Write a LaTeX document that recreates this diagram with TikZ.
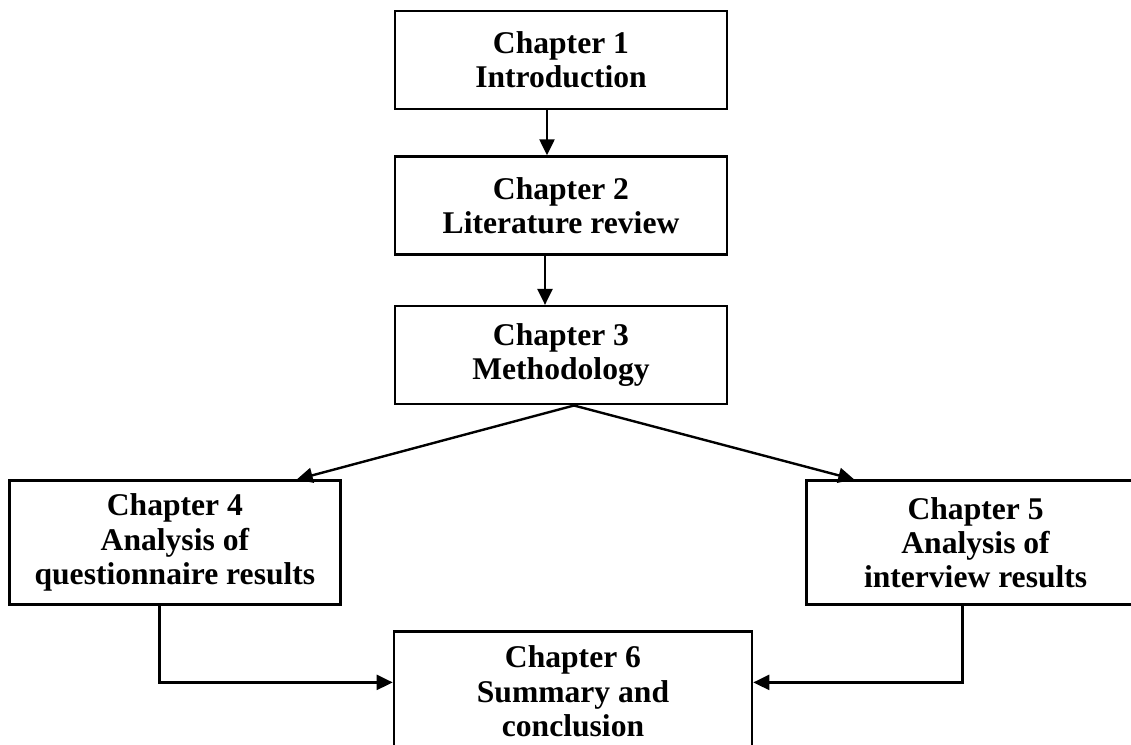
\documentclass[tikz,border=0pt]{standalone}
\usepackage{fontspec}
\setmainfont{Liberation Serif}
\usetikzlibrary{positioning,arrows.meta}

\tikzset{chap/.style={draw, line width=1.3pt, align=center, inner sep=0pt, font=\fontsize{15.8}{17.2}\selectfont\bfseries}}
\tikzset{small/.style={chap, minimum width=166pt, minimum height=49pt}}
\tikzset{big/.style={chap, minimum width=165.5pt, minimum height=62pt}}
\tikzset{arr/.style={line width=1.2pt, -{Triangle[length=8pt,width=7.5pt]}}}

\begin{document}
\begin{tikzpicture}
    \useasboundingbox (0,0) rectangle (565.5pt,372.5pt);

    \node[small] (ch1) at (280.5pt,342.5pt) {Chapter 1\\Introduction};
    \node[small] (ch2) [below=22.5pt of ch1] {Chapter 2\\Literature review};
    \node[small] (ch3) [below=24.5pt of ch2] {Chapter 3\\Methodology};

    \node[big] (ch4) [below left=37pt and 26pt of ch3] {Chapter 4\\Analysis of\\questionnaire results};
    \node[big, minimum width=169pt] (ch5) [below right=37pt and 38.5pt of ch3] {Chapter 5\\Analysis of\\interview results};

    \node[big, minimum width=179pt, text depth=2pt] (ch6) [below right=12pt and 25.5pt of ch4] {Chapter 6\\Summary and\\conclusion};

    \draw[arr] ([xshift=-7pt]ch1.south) -- ([xshift=-7pt]ch2.north);
    \draw[arr] ([xshift=-8pt]ch2.south) -- ([xshift=-8pt]ch3.north);
    \draw[arr] ([xshift=6.5pt]ch3.south) -- ([xshift=-22.5pt]ch4.north east);
    \draw[arr] ([xshift=6.5pt]ch3.south) -- ([xshift=24.5pt]ch5.north west);
    \draw[arr] ([xshift=-7.75pt]ch4.south) |- ([yshift=5.5pt]ch6.west);
    \draw[arr] ([xshift=-6.5pt]ch5.south) |- ([yshift=5.5pt]ch6.east);
\end{tikzpicture}
\end{document}
